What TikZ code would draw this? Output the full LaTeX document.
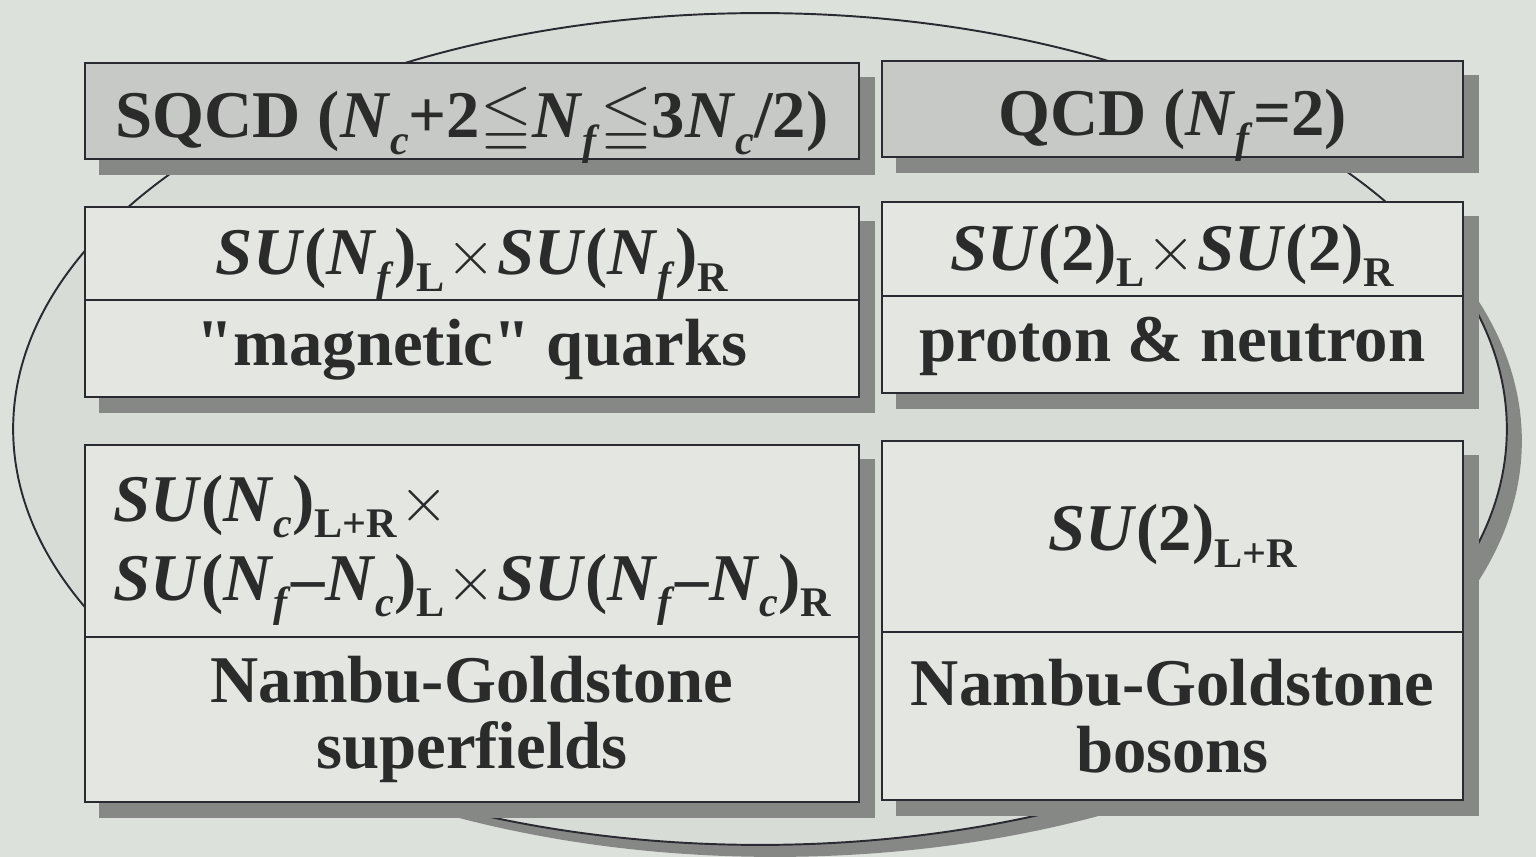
\documentclass[tikz,border=0pt]{standalone}
\usepackage{fontspec}
\setmainfont{Liberation Serif}
\usepackage{amsmath}
\usepackage{amssymb}
\usetikzlibrary{calc}
\usetikzlibrary{backgrounds}

\definecolor{paper}{HTML}{DDE1DC}
\definecolor{ovalfill}{HTML}{D8DCD7}
\definecolor{dropgray}{HTML}{868886}
\definecolor{cellfill}{HTML}{E4E6E2}
\definecolor{headfill}{HTML}{C6C9C5}
\definecolor{rule}{HTML}{2A2A32}
\definecolor{ink}{HTML}{2B2B2B}

\font\quotefont="Liberation Serif/B" at 38pt
\newcommand{\bi}[1]{\textbf{\textit{#1}}}
\newcommand{\lo}[1]{\raisebox{-0.25em}{\fontsize{24}{24}\selectfont #1}}
\newcommand{\crossx}{\hspace{1pt}\scalebox{1.45}{$\times$}\hspace{1pt}}
\newcommand{\qq}{{\quotefont"}}

\begin{document}
\begin{tikzpicture}[x=0.02cm, y=-0.02cm,
	cell/.style={draw=rule, line width=1.6pt, fill=cellfill, inner sep=0pt,
		text=ink, align=center, font=\fontsize{38}{38}\selectfont\bfseries},
	head/.style={cell, fill=headfill, text height=34pt, text depth=4pt},
	symrow/.style={text height=30pt, text depth=6pt},
	namerow/.style={text height=28pt, text depth=9pt},
	drop/.style={fill=dropgray}]

	\begin{scope}[on background layer]
		\fill [paper] (0, 0) rectangle (1536, 857);
		% oval behind the table
		\fill [dropgray] (775, 441) ellipse [x radius=14.94cm, y radius=8.32cm];
		\draw [rule, line width=1.1pt, fill=ovalfill] (760, 429) ellipse [x radius=14.94cm, y radius=8.32cm];
	\end{scope}
	\useasboundingbox (0, 0) rectangle (1536, 857);

	% cells
	\node [head, minimum width=15.48cm, minimum height=1.92cm] (sqcd) at (472, 111)
		{SQCD (\bi{N}\lo{\textit{c}}+2$\leqq$\bi{N}\lo{\textit{f}}$\leqq$3\bi{N}\lo{\textit{c}}/2)};
	\node [head, minimum width=11.62cm, minimum height=1.92cm] (qcd) at (1172.5, 109)
		{QCD (\bi{N}\lo{\textit{f}}=2)};

	\node [cell, symrow, minimum width=15.48cm, minimum height=1.86cm] (symL) at (472, 253.5)
		{\bi{SU}(\bi{N}\lo{\textit{f}})\lo{L}\crossx\bi{SU}(\bi{N}\lo{\textit{f}})\lo{R}};
	\node [cell, namerow, minimum width=15.48cm, minimum height=1.94cm] (fermL) at (472, 348.5)
		{\qq magnetic\qq\ quarks};
	\node [cell, symrow, minimum width=11.62cm, minimum height=1.88cm] (symR) at (1172.5, 249)
		{\bi{SU}(2)\lo{L}\crossx\bi{SU}(2)\lo{R}};
	\node [cell, namerow, minimum width=11.62cm, minimum height=1.94cm] (fermR) at (1172.5, 344.5)
		{proton \& neutron};

	\node [cell, minimum width=15.48cm, minimum height=3.84cm, align=left] (unbrL) at (472, 541)
		{\rule{0pt}{37pt}\bi{SU}(\bi{N}\lo{\textit{c}})\lo{L+R}\crossx\\[7pt]
		 \bi{SU}(\bi{N}\lo{\textit{f}}–\bi{N}\lo{\textit{c}})\lo{L}\crossx\bi{SU}(\bi{N}\lo{\textit{f}}–\bi{N}\lo{\textit{c}})\lo{R}};
	\node [cell, minimum width=15.48cm, minimum height=3.30cm] (ngL) at (472, 719.5)
		{Nambu-Goldstone\\superfields};
	\node [cell, text height=26pt, text depth=10pt, minimum width=11.62cm, minimum height=3.82cm] (unbrR) at (1172.5, 536.5)
		{\bi{SU}(2)\lo{L+R}};
	\node [cell, minimum width=11.62cm, minimum height=3.36cm] (ngR) at (1172.5, 716)
		{Nambu-Goldstone\\bosons};

	% shadows, behind the cells but above the oval
	\begin{scope}[on background layer]
		\fill [drop] ($(sqcd.north west) + (15, 15)$) rectangle ($(sqcd.south east) + (15, 15)$);
		\fill [drop] ($(qcd.north west) + (15, 15)$) rectangle ($(qcd.south east) + (15, 15)$);
		\fill [drop] ($(symL.north west) + (15, 15)$) rectangle ($(fermL.south east) + (15, 15)$);
		\fill [drop] ($(symR.north west) + (15, 15)$) rectangle ($(fermR.south east) + (15, 15)$);
		\fill [drop] ($(unbrL.north west) + (15, 15)$) rectangle ($(ngL.south east) + (15, 15)$);
		\fill [drop] ($(unbrR.north west) + (15, 15)$) rectangle ($(ngR.south east) + (15, 15)$);
	\end{scope}

\end{tikzpicture}
\end{document}
